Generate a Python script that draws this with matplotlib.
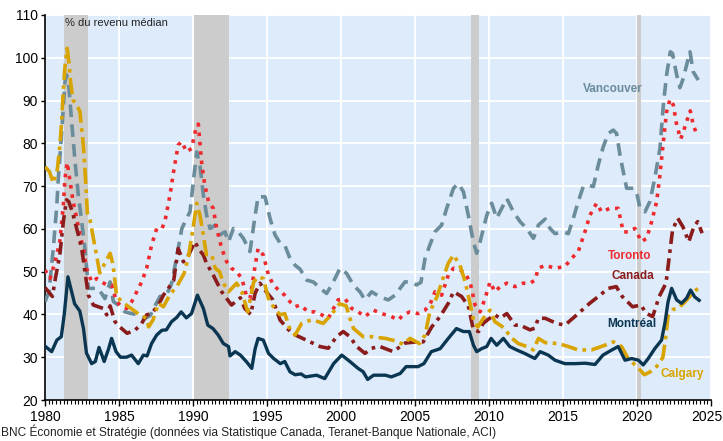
import numpy as np
import matplotlib
matplotlib.use("Agg")
import matplotlib.pyplot as plt
from matplotlib.ticker import MultipleLocator, FixedLocator

plt.rcParams['font.family'] = ['Liberation Sans', 'DejaVu Sans']

# data (year, % of median income)
mtl_years = [1980.0, 1980.45, 1980.8, 1981.1, 1981.3, 1981.55, 1981.75, 1982.0, 1982.35, 1982.6,
             1982.8, 1983.15, 1983.4, 1983.65, 1984.0, 1984.3, 1984.5, 1984.8, 1985.1, 1985.5,
             1985.85, 1986.3, 1986.65, 1986.9, 1987.2, 1987.55, 1987.9, 1988.2, 1988.55, 1988.9,
             1989.2, 1989.55, 1989.9, 1990.3, 1990.7, 1991.0, 1991.35, 1991.7, 1992.05, 1992.4,
             1992.5, 1992.85, 1993.2, 1993.6, 1993.97, 1994.2, 1994.4, 1994.75, 1995.1, 1995.45,
             1995.9, 1996.2, 1996.55, 1996.9, 1997.3, 1997.6, 1998.35, 1998.9, 1999.5, 2000.05,
             2000.6, 2001.15, 2001.5, 2001.8, 2002.2, 2003.0, 2003.4, 2004.0, 2004.4, 2005.2,
             2005.6, 2006.1, 2006.7, 2007.25, 2007.8, 2008.27, 2008.67, 2008.95, 2009.17, 2009.5,
             2009.85, 2010.14, 2010.52, 2010.97, 2011.4, 2011.87, 2012.4, 2013.1, 2013.45, 2014.0,
             2014.46, 2015.13, 2015.8, 2016.5, 2017.16, 2017.7, 2018.3, 2018.73, 2019.19, 2019.64,
             2020.1, 2020.42, 2020.76, 2021.2, 2021.66, 2021.9, 2022.1, 2022.34, 2022.68, 2023.0,
             2023.35, 2023.62, 2023.9, 2024.2]
mtl_vals = [32.6, 31.3, 34.0, 34.8, 40.0, 48.8, 46.0, 42.5, 40.8, 36.7,
            31.0, 28.5, 29.0, 32.3, 29.0, 32.0, 34.4, 31.3, 30.0, 30.0,
            30.5, 28.5, 30.5, 30.3, 33.2, 35.2, 36.3, 36.4, 38.3, 39.3,
            40.6, 39.2, 40.2, 44.5, 41.4, 37.5, 36.7, 35.2, 33.2, 32.5,
            30.3, 31.3, 30.5, 29.0, 27.4, 32.0, 34.4, 34.0, 30.9, 29.7,
            28.5, 29.0, 26.6, 25.9, 26.1, 25.4, 25.8, 25.0, 28.5, 30.5,
            29.0, 27.4, 26.6, 24.8, 25.8, 25.8, 25.4, 26.2, 27.8, 27.8,
            28.5, 31.3, 32.0, 34.4, 36.7, 36.0, 36.0, 32.8, 31.3, 32.0,
            32.5, 34.4, 32.8, 34.4, 32.5, 31.7, 30.9, 29.7, 31.3, 30.5,
            29.3, 28.5, 28.5, 28.6, 28.3, 30.5, 31.7, 32.5, 29.3, 29.7,
            29.3, 28.2, 29.7, 32.0, 34.0, 38.3, 43.0, 46.1, 43.4, 42.6,
            43.8, 45.7, 44.1, 43.3]

cal_years = [1980.0, 1980.3, 1980.56, 1980.83, 1981.0, 1981.1, 1981.24, 1981.35, 1981.5, 1981.62,
             1981.74, 1981.9, 1982.2, 1982.36, 1982.6, 1982.77, 1982.86, 1983.04, 1983.5, 1983.7,
             1984.05, 1984.4, 1984.6, 1984.84, 1985.3, 1985.97, 1986.4, 1986.87, 1987.0, 1987.3,
             1987.66, 1988.0, 1988.45, 1988.9, 1989.4, 1989.7, 1990.0, 1990.25, 1990.47, 1990.7,
             1990.9, 1991.26, 1991.5, 1991.8, 1992.05, 1992.4, 1992.95, 1993.3, 1993.7, 1994.1,
             1994.4, 1994.75, 1995.1, 1995.5, 1995.9, 1996.2, 1996.55, 1996.9, 1997.34, 1997.8,
             1998.13, 1998.8, 1999.4, 1999.9, 2000.35, 2000.6, 2000.85, 2001.5, 2002.07, 2003.0,
             2003.7, 2004.2, 2004.66, 2005.3, 2005.68, 2006.0, 2006.47, 2006.9, 2007.25, 2007.6,
             2008.04, 2008.4, 2008.75, 2009.0, 2009.25, 2009.62, 2010.07, 2010.4, 2010.75, 2011.08,
             2011.42, 2011.98, 2012.55, 2013.0, 2013.34, 2013.8, 2014.68, 2015.36, 2016.03, 2016.93,
             2017.83, 2018.4, 2018.96, 2019.4, 2020.0, 2020.5, 2020.9, 2021.44, 2021.75, 2021.93,
             2022.1, 2022.45, 2022.8, 2023.2, 2023.65, 2024.1]
cal_vals = [74.5, 73.4, 70.7, 73.8, 79.2, 83.9, 92.5, 97.9, 102.2, 98.7,
            94.0, 90.1, 88.6, 87.4, 79.2, 69.9, 63.7, 62.1, 53.5, 49.7,
            52.0, 54.3, 51.6, 44.2, 42.7, 41.0, 39.9, 39.1, 37.1, 38.7,
            42.6, 41.8, 44.7, 46.5, 49.6, 53.7, 60.0, 66.0, 63.2, 58.6,
            54.0, 54.0, 50.8, 50.0, 47.3, 45.3, 47.3, 45.3, 40.6, 47.6,
            48.8, 48.4, 43.7, 41.4, 39.9, 40.2, 36.5, 35.2, 37.9, 38.5,
            38.7, 37.9, 40.2, 42.5, 42.0, 39.1, 36.7, 34.8, 34.8, 34.4,
            33.8, 33.0, 34.4, 33.2, 35.2, 40.6, 44.0, 48.5, 52.0, 53.9,
            51.5, 47.5, 42.0, 37.9, 37.1, 39.1, 41.0, 38.3, 37.5, 36.7,
            34.8, 33.2, 32.5, 31.7, 34.4, 33.4, 33.2, 32.5, 31.7, 31.7,
            32.8, 33.6, 32.5, 29.7, 27.8, 25.9, 26.6, 28.2, 30.0, 34.5,
            39.7, 41.2, 41.5, 42.8, 44.5, 46.1]

can_years = [1980.0, 1980.5, 1980.7, 1981.0, 1981.24, 1981.45, 1981.6, 1981.85, 1982.25, 1982.48,
             1982.7, 1982.93, 1983.27, 1983.6, 1983.94, 1984.17, 1984.4, 1984.73, 1985.18, 1985.55,
             1986.08, 1986.53, 1986.87, 1987.2, 1987.66, 1988.0, 1988.33, 1988.7, 1989.0, 1989.35,
             1989.7, 1990.14, 1990.36, 1990.7, 1990.92, 1991.37, 1991.6, 1991.94, 1992.28, 1992.6,
             1993.2, 1993.5, 1993.9, 1994.2, 1994.53, 1994.9, 1995.4, 1995.88, 1996.67, 1997.9,
             1998.58, 1999.14, 1999.7, 2000.15, 2000.6, 2001.06, 2001.62, 2002.07, 2002.63, 2003.53,
             2004.32, 2005.1, 2005.56, 2006.13, 2006.69, 2007.25, 2007.6, 2008.15, 2008.6, 2008.94,
             2009.3, 2009.6, 2009.96, 2010.4, 2010.75, 2011.2, 2011.76, 2012.1, 2012.77, 2013.1,
             2013.33, 2013.8, 2014.57, 2015.13, 2015.93, 2016.8, 2017.39, 2018.06, 2018.6, 2019.0,
             2019.7, 2020.27, 2020.6, 2021.06, 2021.5, 2021.96, 2022.18, 2022.4, 2022.75, 2023.1,
             2023.5, 2023.84, 2024.1, 2024.4]
can_vals = [46.3, 44.2, 48.4, 53.9, 61.7, 66.8, 66.4, 64.0, 58.6, 55.4,
            50.0, 44.5, 42.2, 41.8, 41.4, 39.9, 42.0, 38.3, 36.7, 35.6,
            36.3, 37.9, 39.9, 40.2, 42.2, 44.5, 46.1, 48.0, 55.4, 52.3,
            53.9, 57.0, 55.4, 53.9, 51.9, 49.2, 47.6, 45.3, 43.7, 42.2,
            43.9, 41.4, 40.0, 45.0, 47.3, 45.5, 43.4, 38.7, 35.6, 33.6,
            32.5, 32.1, 34.8, 36.0, 34.8, 32.5, 30.9, 32.1, 32.5, 31.3,
            33.3, 33.6, 33.6, 37.1, 39.5, 42.6, 45.3, 44.2, 42.0, 36.5,
            36.0, 37.9, 38.9, 39.9, 39.1, 40.2, 37.5, 37.5, 36.4, 36.8,
            39.1, 39.1, 37.9, 37.5, 39.9, 42.6, 44.2, 46.1, 46.5, 44.2,
            41.8, 42.2, 40.3, 39.5, 44.2, 47.3, 53.5, 59.7, 62.5, 60.5,
            57.0, 60.5, 61.7, 59.0]

tor_years = [1980.0, 1980.34, 1980.68, 1981.0, 1981.24, 1981.35, 1981.5, 1981.7, 1981.9, 1982.14,
             1982.36, 1982.6, 1982.8, 1983.15, 1983.5, 1983.83, 1984.17, 1984.5, 1984.84, 1985.18,
             1985.52, 1985.86, 1986.2, 1986.53, 1986.87, 1987.2, 1987.55, 1987.9, 1988.1, 1988.45,
             1988.72, 1989.0, 1989.23, 1989.57, 1989.9, 1990.2, 1990.36, 1990.6, 1990.8, 1991.05,
             1991.37, 1991.6, 1991.94, 1992.28, 1992.6, 1992.95, 1993.3, 1993.6, 1993.85, 1994.2,
             1994.4, 1994.75, 1995.1, 1995.43, 1995.9, 1996.2, 1996.55, 1996.9, 1997.23, 1997.8,
             1998.25, 1998.7, 1999.14, 1999.37, 1999.8, 2000.27, 2000.72, 2001.17, 2001.6, 2002.2,
             2002.75, 2003.4, 2003.87, 2004.2, 2004.66, 2005.2, 2005.67, 2006.0, 2006.35, 2006.8,
             2007.25, 2007.6, 2008.04, 2008.38, 2008.72, 2009.06, 2009.4, 2009.73, 2010.07, 2010.4,
             2010.75, 2011.2, 2011.76, 2012.3, 2012.77, 2013.1, 2013.34, 2013.8, 2014.46, 2015.13,
             2015.58, 2016.03, 2016.48, 2016.82, 2017.27, 2017.6, 2018.17, 2018.73, 2019.07, 2019.4,
             2019.86, 2020.3, 2020.65, 2020.99, 2021.33, 2021.55, 2021.78, 2022.0, 2022.23, 2022.45,
             2022.68, 2022.95, 2023.13, 2023.35, 2023.6, 2023.8, 2024.1]
tor_vals = [50.4, 48.4, 52.3, 57.0, 65.6, 71.8, 75.5, 71.0, 66.4, 62.5,
            58.6, 55.4, 50.8, 47.6, 48.4, 47.6, 46.9, 46.9, 43.0, 41.8,
            41.4, 43.0, 45.3, 47.6, 50.8, 56.2, 60.1, 60.1, 61.7, 68.0,
            74.1, 79.6, 80.4, 78.0, 78.8, 83.5, 84.5, 74.9, 70.2, 66.4,
            64.8, 60.1, 55.4, 52.3, 50.8, 50.0, 48.4, 44.5, 43.7, 51.5,
            55.4, 53.9, 49.2, 46.9, 45.3, 44.5, 43.0, 41.8, 42.2, 40.6,
            40.6, 39.9, 39.1, 40.6, 43.4, 43.7, 41.4, 40.6, 39.5, 41.0,
            40.2, 39.5, 38.7, 39.9, 40.6, 40.2, 41.0, 42.2, 45.3, 44.5,
            49.2, 50.8, 50.4, 49.6, 47.6, 42.2, 40.6, 43.7, 47.6, 45.3,
            46.5, 47.3, 46.5, 47.3, 47.3, 48.0, 50.8, 51.5, 50.8, 51.2,
            53.1, 54.7, 59.3, 63.2, 66.0, 64.0, 64.8, 64.8, 59.3, 59.3,
            60.1, 57.0, 57.8, 61.7, 66.4, 72.6, 80.4, 87.4, 90.3, 89.0,
            84.3, 81.0, 82.7, 85.1, 87.6, 84.3, 81.6]

van_years = [1980.0, 1980.27, 1980.56, 1980.8, 1980.9, 1981.13, 1981.35, 1981.46, 1981.62, 1981.8,
             1982.03, 1982.25, 1982.48, 1982.7, 1982.93, 1983.27, 1983.6, 1984.05, 1984.4, 1984.62,
             1984.95, 1985.4, 1985.86, 1986.3, 1986.76, 1987.1, 1987.43, 1987.77, 1988.2, 1988.56,
             1988.9, 1989.24, 1989.57, 1989.8, 1990.02, 1990.25, 1990.47, 1990.7, 1990.92, 1991.15,
             1991.5, 1991.8, 1992.16, 1992.4, 1992.73, 1993.06, 1993.4, 1993.85, 1994.2, 1994.4,
             1994.87, 1995.2, 1995.54, 1995.9, 1996.2, 1996.55, 1996.9, 1997.23, 1997.7, 1998.13,
             1998.6, 1999.03, 1999.48, 1999.93, 2000.38, 2000.83, 2001.28, 2001.62, 2002.07, 2002.63,
             2003.2, 2003.65, 2004.0, 2004.32, 2004.77, 2005.1, 2005.4, 2005.68, 2006.0, 2006.35,
             2006.8, 2007.14, 2007.6, 2007.93, 2008.27, 2008.6, 2008.94, 2009.17, 2009.4, 2009.85,
             2010.18, 2010.52, 2010.86, 2011.2, 2011.65, 2012.1, 2012.55, 2013.0, 2013.34, 2013.8,
             2014.12, 2014.46, 2015.02, 2015.36, 2015.7, 2016.03, 2016.37, 2016.7, 2017.05, 2017.38,
             2017.72, 2018.06, 2018.4, 2018.62, 2018.85, 2019.07, 2019.3, 2019.75, 2019.97, 2020.2,
             2020.54, 2020.87, 2021.2, 2021.55, 2021.78, 2022.0, 2022.25, 2022.4, 2022.68, 2022.9,
             2023.13, 2023.35, 2023.58, 2023.8, 2024.14]
van_vals = [43.0, 45.3, 55.4, 65.6, 71.8, 82.7, 94.4, 96.0, 92.9, 85.1,
            75.7, 67.9, 61.7, 55.4, 46.1, 46.1, 46.1, 43.7, 47.6, 43.0,
            42.2, 40.6, 40.2, 39.9, 39.1, 39.7, 42.0, 44.2, 44.5, 47.3,
            53.5, 60.0, 62.5, 64.0, 71.0, 78.0, 74.9, 67.9, 63.2, 60.1,
            60.9, 58.6, 59.3, 57.0, 60.1, 59.3, 57.8, 54.7, 63.2, 67.5,
            67.5, 62.5, 58.6, 56.6, 56.2, 53.1, 51.5, 50.6, 48.0, 47.6,
            46.1, 44.9, 47.6, 50.8, 49.6, 46.9, 45.3, 43.4, 45.3, 44.1,
            43.4, 44.5, 46.1, 47.6, 47.6, 46.9, 47.5, 53.1, 56.2, 59.3,
            60.9, 64.8, 69.5, 70.6, 68.7, 63.2, 57.0, 54.3, 57.0, 63.2,
            66.0, 62.5, 64.8, 67.1, 64.0, 61.7, 60.1, 57.8, 60.9, 62.3,
            60.1, 58.9, 59.3, 58.9, 62.5, 66.4, 69.9, 70.2, 69.9, 74.9,
            79.2, 82.3, 83.1, 82.3, 77.3, 73.4, 69.5, 69.5, 68.7, 64.8,
            64.0, 66.4, 71.8, 78.8, 89.0, 96.0, 101.4, 101.0, 96.0, 93.0,
            95.2, 98.3, 101.4, 96.7, 94.8]

recessions = [(1981.3, 1982.9), (1990.1, 1992.4), (2008.75, 2009.3), (2020.0, 2020.3)]
year_ticks = [1980, 1985, 1990, 1995, 2000, 2005, 2010, 2015, 2020, 2025]

c_van = '#6b8c9b'
c_tor = '#ee2a2e'
c_can = '#8b1c1c'
c_cal = '#d9a400'
c_mtl = '#0b3652'

fig = plt.figure(figsize=(7.23, 4.41), dpi=100)
ax = fig.add_axes([45 / 723, 41 / 441, 666 / 723, 385 / 441])
ax.set_facecolor('#ddebfb')

for a, b in recessions:
    ax.axvspan(a, b, color='#cccccc', lw=0, zorder=1)

ax.grid(True, color='white', lw=1.3, zorder=0)
ax.set_axisbelow(True)

ax.plot(van_years, van_vals, color=c_van, lw=2.6, ls=(0, (3.5, 2)), zorder=3)
ax.plot(tor_years, tor_vals, color=c_tor, lw=2.6, ls=(0, (1, 1.6)), zorder=3)
ax.plot(can_years, can_vals, color=c_can, lw=2.6, ls=(0, (3.5, 1.5, 1, 1.5)), zorder=3)
ax.plot(cal_years, cal_vals, color=c_cal, lw=2.6, ls=(0, (4.5, 1.5, 1, 1.5)), zorder=3)
ax.plot(mtl_years, mtl_vals, color=c_mtl, lw=2.4, ls='-', zorder=4)

ax.set_xlim(1980, 2025)
ax.set_ylim(20, 110)
ax.xaxis.set_major_locator(FixedLocator(year_ticks))
ax.set_xticklabels([str(y) for y in year_ticks[:-1]] + [''])
ax.xaxis.set_minor_locator(MultipleLocator(0.25))
ax.yaxis.set_major_locator(MultipleLocator(10))
ax.tick_params(axis='x', which='major', length=4, width=1, labelsize=10, pad=3)
ax.tick_params(axis='x', which='minor', length=3, width=0.8)
ax.tick_params(axis='y', which='major', length=3, width=1, labelsize=10, pad=2)
ax.xaxis.grid(True, which='minor', lw=0)

# last year label nudged left so it stays inside the figure
ax.annotate(str(year_ticks[-1]), xy=(year_ticks[-1], 20), xytext=(-3, -7.2),
            textcoords='offset points', ha='center', va='top', fontsize=10, annotation_clip=False)

for s in ['top', 'right']:
    ax.spines[s].set_visible(False)
for s in ['left', 'bottom']:
    ax.spines[s].set_color('black')
    ax.spines[s].set_linewidth(1.2)

# series labels
ax.text(2018.35, 92.7, 'Vancouver', color=c_van, fontsize=8.5, fontweight='bold', ha='center', va='center')
ax.text(2019.5, 53.7, 'Toronto', color=c_tor, fontsize=8.5, fontweight='bold', ha='center', va='center')
ax.text(2019.75, 49.0, 'Canada', color=c_can, fontsize=8.5, fontweight='bold', ha='center', va='center')
ax.text(2019.67, 37.7, 'Montréal', color=c_mtl, fontsize=8.5, fontweight='bold', ha='center', va='center')
ax.text(2023.05, 26.0, 'Calgary', color=c_cal, fontsize=8.5, fontweight='bold', ha='center', va='center')

ax.text(1981.35, 108.1, '% du revenu médian', fontsize=8, color='#222222', ha='left', va='center')

fig.text(0.002, 0.02, 'BNC Économie et Stratégie (données via Statistique Canada, Teranet-Banque Nationale, ACI)',
         fontsize=8.6, color='#222222', ha='left', va='center')

fig.savefig('out.png', dpi=100)
